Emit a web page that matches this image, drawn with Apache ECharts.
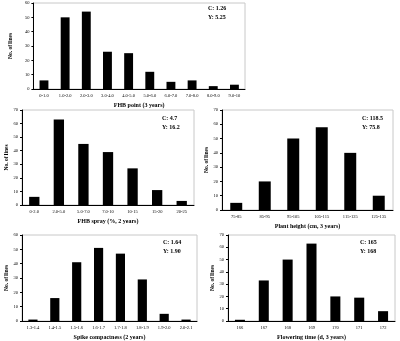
<!DOCTYPE html>
<html>
<head>
<meta charset="utf-8">
<script src="https://cdn.jsdelivr.net/npm/echarts@6/dist/echarts.min.js"></script>
<style>
  html, body { margin: 0; padding: 0; background: #fff; }
  #chart { width: 400px; height: 341px; }
</style>
</head>
<body>
<div id="chart"></div>
<script>
// 各面板数据
const fhbPointCats = ['0-1.0', '1.0-2.0', '2.0-3.0', '3.0-4.0', '4.0-5.0', '5.0-6.0', '6.0-7.0', '7.0-8.0', '8.0-9.0', '9.0-10']
const fhbPointVals = [6, 50, 54, 26, 25, 12, 5, 6, 2, 3]

const fhbSprayCats = ['0-2.0', '2.0-5.0', '5.0-7.0', '7.0-10', '10-15', '15-20', '20-25']
const fhbSprayVals = [6, 63, 45, 39, 27, 11, 3]

const heightCats = ['75-85', '85-95', '95-105', '105-115', '115-125', '125-135']
const heightVals = [5, 20, 50, 58, 40, 10]

const spikeCats = ['1.3-1.4', '1.4-1.5', '1.5-1.6', '1.6-1.7', '1.7-1.8', '1.8-1.9', '1.9-2.0', '2.0-2.1']
const spikeVals = [1, 16, 41, 51, 47, 29, 5, 1]

const flowerCats = ['166', '167', '168', '169', '170', '171', '172']
const flowerVals = [1, 33, 50, 63, 20, 19, 8]

const xNames = ['FHB point (3 years)', 'FHB spray (%, 2 years)', 'Plant height (cm, 3 years)', 'Spike compactness (2 years)', 'Flowering time (d, 3 years)']
const yMax = [60, 70, 70, 60, 70]
const cLabels = ['C: 1.26', 'C: 4.7', 'C: 118.5', 'C: 1.64', 'C: 165']
const yLabels = ['Y: 5.25', 'Y: 16.2', 'Y: 75.8', 'Y: 1.90', 'Y: 168']

const cats = [fhbPointCats, fhbSprayCats, heightCats, spikeCats, flowerCats]
const vals = [fhbPointVals, fhbSprayVals, heightVals, spikeVals, flowerVals]

const font = '"Liberation Serif", "Times New Roman", serif'

const grids = [
  { left: 22, top: 3, width: 223, height: 86 },
  { left: 22, top: 110, width: 172, height: 95 },
  { left: 222, top: 110, width: 171, height: 100 },
  { left: 22, top: 235, width: 175, height: 87 },
  { left: 228, top: 235, width: 167, height: 89 }
]
// 注释文字位置
const notePos = [[208, 4], [162, 114], [362, 114], [163, 238], [360, 238]]

const chart = echarts.init(document.getElementById('chart'), null, { renderer: 'canvas' })

const option = {
  animation: false,
  grid: grids.map(g => Object.assign({ show: true, borderColor: '#c8c8c8', borderWidth: 1, backgroundColor: '#fff' }, g)),
  xAxis: cats.map((c, i) => ({
    type: 'category',
    gridIndex: i,
    data: c,
    name: xNames[i],
    nameLocation: 'middle',
    nameGap: 13,
    nameTextStyle: { fontFamily: font, fontSize: 6, fontWeight: 'bold', color: '#000' },
    axisLine: { lineStyle: { color: '#000', width: 1 } },
    axisTick: { length: 2, lineStyle: { color: '#000' } },
    axisLabel: { fontFamily: font, fontSize: 4.5, color: '#000', margin: 4, interval: 0 }
  })),
  yAxis: yMax.map((m, i) => ({
    type: 'value',
    gridIndex: i,
    min: 0,
    max: m,
    interval: 10,
    name: 'No. of lines',
    nameLocation: 'middle',
    nameGap: 12,
    nameTextStyle: { fontFamily: font, fontSize: 5.5, fontWeight: 'bold', color: '#000' },
    axisLine: { show: true, lineStyle: { color: '#000', width: 1 } },
    axisTick: { show: true, length: 2, lineStyle: { color: '#000' } },
    axisLabel: { fontFamily: font, fontSize: 4.5, color: '#000', margin: 4 },
    splitLine: { show: false }
  })),
  series: vals.map((v, i) => ({
    type: 'bar',
    xAxisIndex: i,
    yAxisIndex: i,
    data: v,
    barWidth: '42%',
    itemStyle: { color: '#000' }
  })),
  graphic: notePos.map((p, i) => ({
    type: 'text',
    left: p[0],
    top: p[1],
    style: {
      text: cLabels[i] + '\n' + yLabels[i],
      fontFamily: font,
      fontSize: 6,
      fontWeight: 'bold',
      lineHeight: 9,
      fill: '#000'
    }
  }))
}

chart.setOption(option)
</script>
</body>
</html>
